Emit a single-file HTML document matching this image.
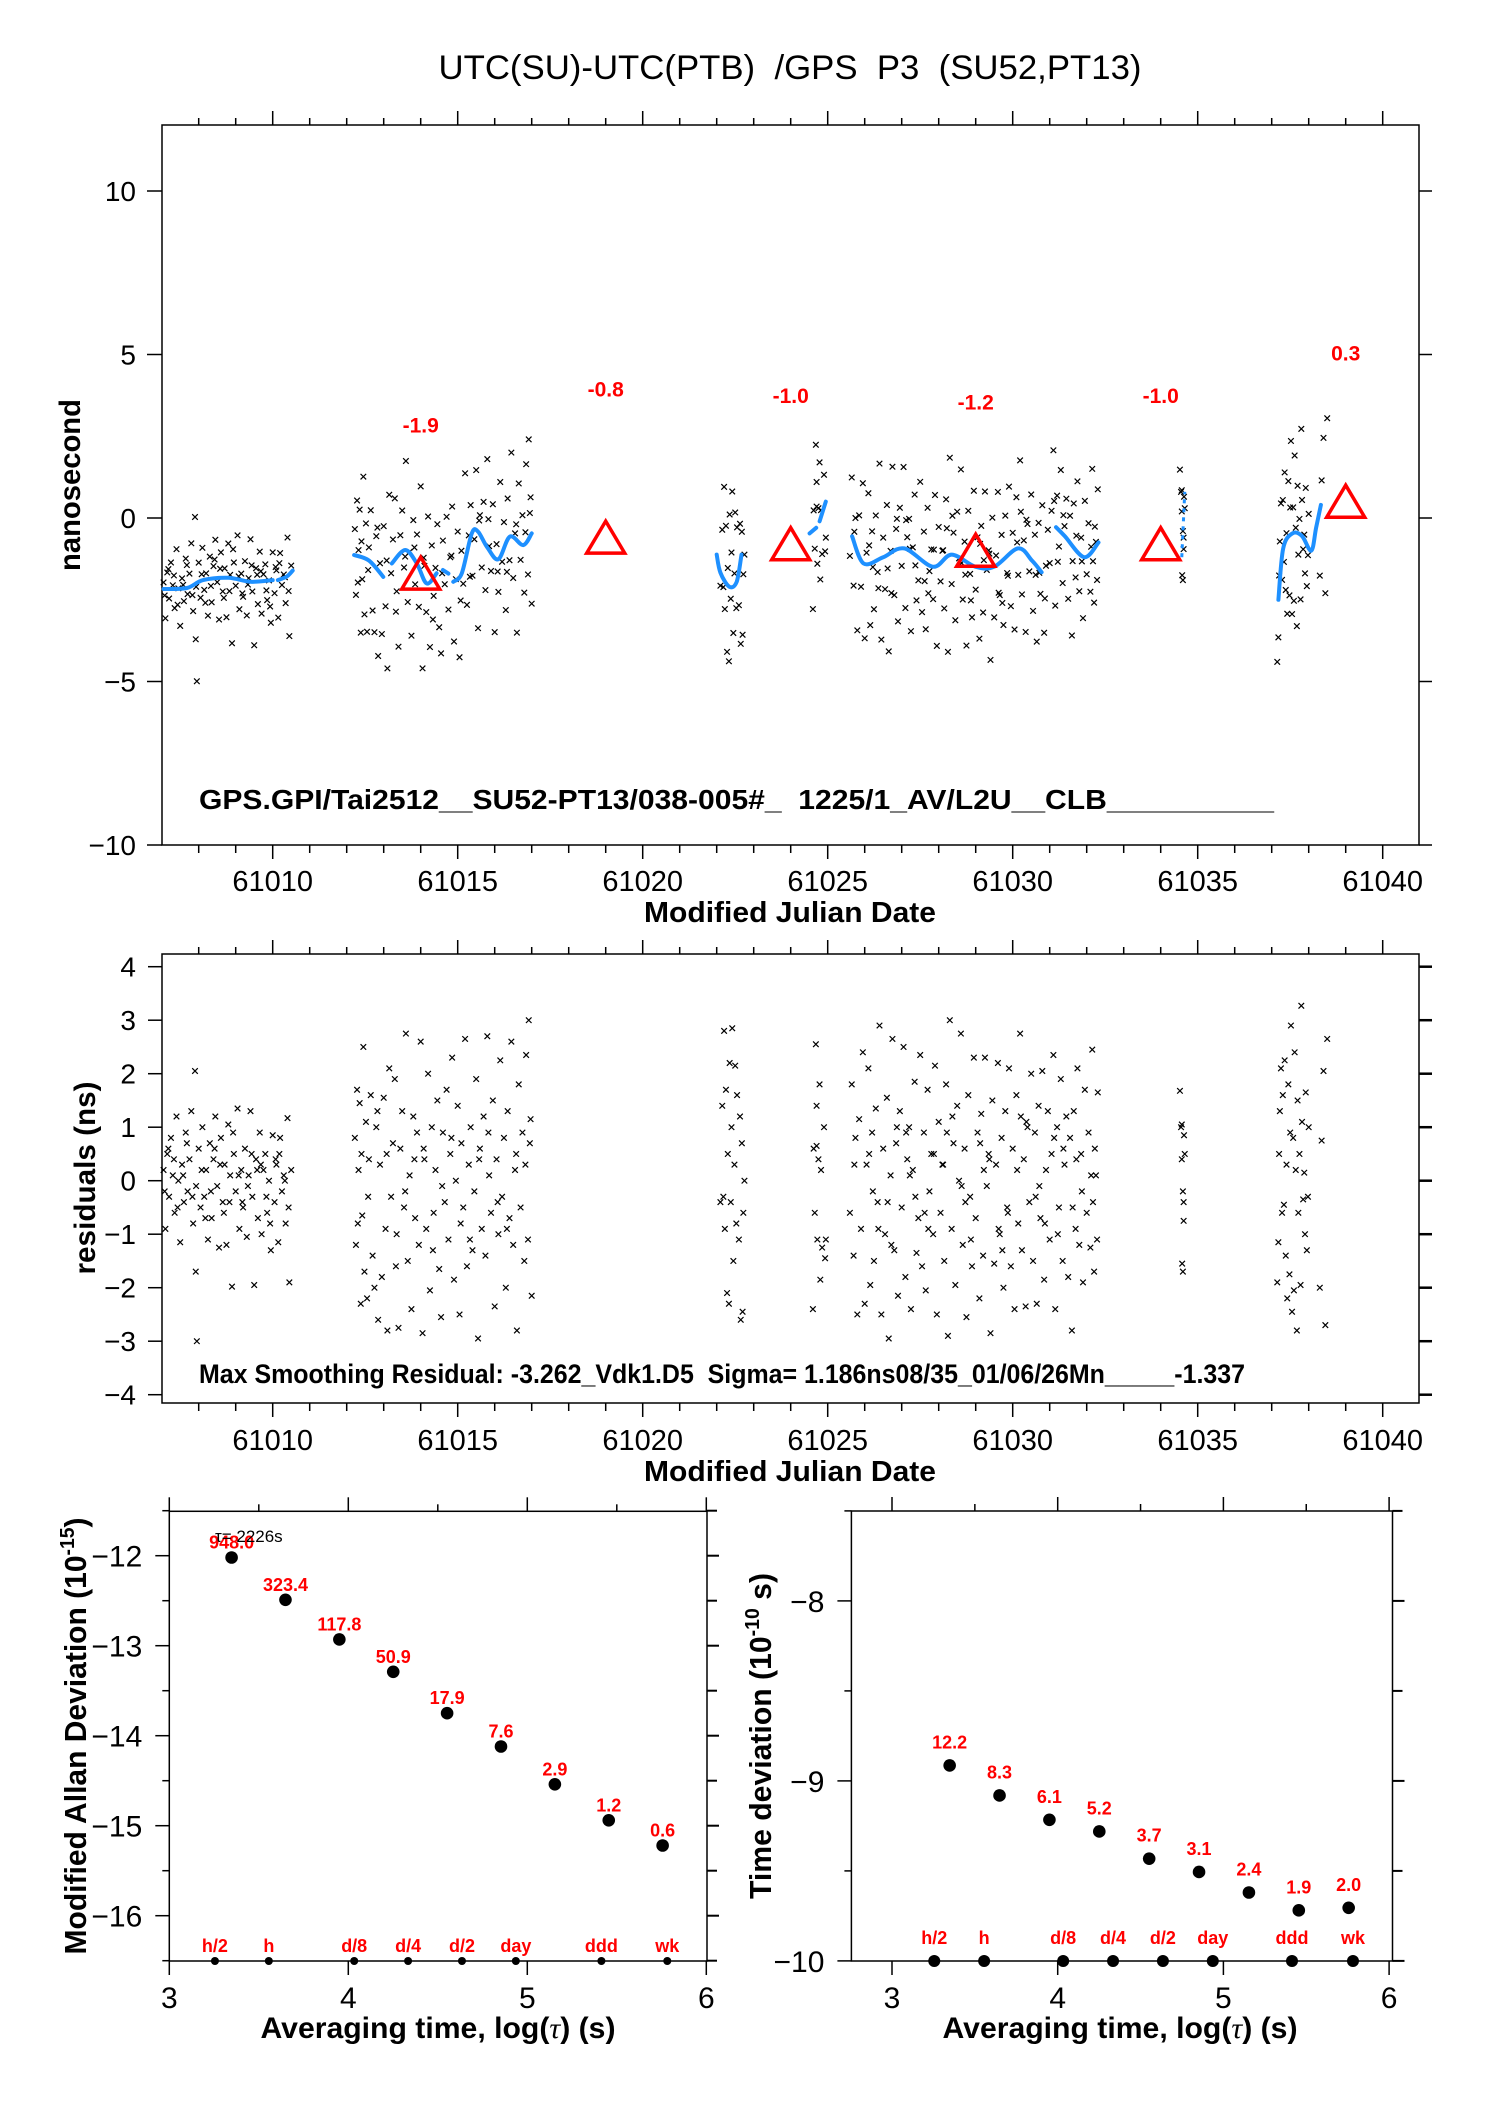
<!DOCTYPE html>
<html><head><meta charset="utf-8">
<style>
body{margin:0;background:#fff}
svg{display:block}
text{font-family:"Liberation Sans",Arial,sans-serif;white-space:pre}
</style></head>
<body>
<svg id="chart" xmlns="http://www.w3.org/2000/svg" width="1488" height="2105" viewBox="0 0 1488 2105">
<rect width="1488" height="2105" fill="#fff"/>
</svg>
<script>
// ---------------- DATA ----------------
const triMjd=[61014,61019,61024,61029,61034,61039];
const triVal=[-1.9,-0.8,-1.0,-1.2,-1.0,0.3];
const triLabels=['-1.9','-0.8','-1.0','-1.2','-1.0','0.3'];

const smoothX=[
 [61007.05,61007.68,61008.12,61008.8,61009.4,61010.0],
 [61010.14,61010.38,61010.54],
 [61012.2,61012.6,61012.99],
 [61013.22,61013.58,61013.89,61014.16,61014.43],
 [61014.6,61014.75],
 [61014.88,61015.11,61015.38,61015.55,61015.8,61016.1,61016.41,61016.77,61017.0],
 [61022.0,61022.1,61022.34,61022.54,61022.67],
 [61024.51,61024.69],
 [61024.78,61024.95],
 [61025.66,61025.97,61026.5,61027.07,61027.84,61028.35,61028.99,61029.5,61030.14,61030.52,61030.78],
 [61031.17,61031.41,61031.93,61032.32],
 [61037.18,61037.31,61037.56,61037.82,61038.07,61038.2,61038.33]
];
const smoothY=[
 [-2.17,-2.14,-1.9,-1.83,-1.95,-1.9],
 [-1.9,-1.79,-1.61],
 [-1.13,-1.3,-1.8],
 [-1.39,-0.98,-1.38,-2.0,-1.69],
 [-1.59,-1.7],
 [-1.95,-1.69,-0.47,-0.42,-0.9,-1.26,-0.57,-0.83,-0.47],
 [-1.12,-1.67,-2.1,-1.95,-1.12],
 [-0.47,-0.3],
 [-0.1,0.5],
 [-0.56,-1.39,-1.2,-0.93,-1.49,-1.12,-1.49,-1.49,-0.93,-1.3,-1.66],
 [-0.28,-0.56,-1.2,-0.75],
 [-2.5,-0.93,-0.47,-0.55,-1.0,-0.3,0.4]
];
const dottedX=[61034.57,61034.65];
const dottedY=[-1.2,0.8];

const res1=[[7.05,0.2],[7.1,-0.9],[7.15,0.5],[7.2,-0.3],[7.25,0.8],[7.3,0.1],[7.35,-0.6],[7.4,1.2],[7.45,0.0],[7.5,-1.15],[7.55,0.3],[7.6,-0.4],[7.65,0.9],[7.7,-0.2],[7.75,0.4],[7.8,1.3],[7.85,-0.8],[7.9,2.05],[7.92,-1.7],[7.95,-3.0],[8.0,0.6],[8.05,-0.5],[8.1,1.0],[8.15,-0.3],[8.2,0.2],[8.25,-1.1],[8.3,0.7],[8.35,-0.7],[8.4,0.4],[8.45,1.2],[8.5,-0.1],[8.55,-1.25],[8.6,0.8],[8.65,-0.4],[8.7,0.3],[8.75,-1.2],[8.8,1.05],[8.85,0.1],[8.9,-1.98],[8.95,0.5],[9.0,-0.2],[9.05,1.35],[9.1,-0.9],[9.15,0.2],[9.2,-0.5],[9.25,0.6],[9.3,-1.05],[9.35,0.1],[9.4,1.3],[9.45,-0.3],[9.5,-1.95],[9.55,0.4],[9.6,-0.7],[9.65,0.9],[9.7,-1.0],[9.75,0.2],[9.8,0.5],[9.85,-0.6],[9.9,0.0],[9.95,-1.3],[10.0,0.85],[10.05,-0.4],[10.1,0.3],[10.15,-1.15],[10.2,0.8],[10.25,-0.2],[10.3,0.1],[10.35,-0.8],[10.4,1.17],[10.45,-1.9],[10.5,0.2],[7.08,-0.2],[7.33,0.4],[7.58,0.1],[7.83,-0.3],[8.08,0.2],[8.33,-0.2],[8.58,0.3],[8.83,-0.4],[9.08,0.1],[9.33,-0.1],[9.58,0.2],[9.83,-0.3],[10.08,0.4],[10.33,0.0],[7.18,0.6],[7.43,-0.5],[7.68,0.7],[7.93,-0.1],[8.18,-0.7],[8.43,0.6],[8.68,-0.6],[8.93,0.9],[9.18,-0.4],[9.43,0.5],[9.68,0.3],[9.93,-0.8],[10.18,0.5],[10.43,-0.5]];
const res2=[[12.22,0.8],[12.25,-1.2],[12.28,1.7],[12.3,-0.8],[12.32,0.2],[12.35,1.45],[12.38,-2.3],[12.4,0.5],[12.42,-0.65],[12.45,2.5],[12.48,-1.7],[12.52,1.1],[12.55,-2.2],[12.6,0.4],[12.65,1.6],[12.7,-1.4],[12.75,-2.0],[12.8,1.0],[12.85,-2.6],[12.9,0.3],[12.95,-1.8],[13.0,1.55],[13.05,-0.9],[13.1,-2.8],[13.15,2.1],[13.2,-0.3],[13.25,0.7],[13.3,1.9],[13.35,-1.0],[13.4,-2.75],[13.45,0.6],[13.5,1.3],[13.55,-0.5],[13.6,2.75],[13.65,-1.5],[13.7,0.1],[13.75,-2.4],[13.8,1.2],[13.85,-0.7],[13.9,0.9],[13.95,-1.2],[14.0,2.6],[14.05,-2.85],[14.1,0.4],[14.15,-0.9],[14.2,2.0],[14.25,-2.05],[14.3,1.0],[14.35,-0.6],[14.4,0.2],[14.45,1.5],[14.5,-1.65],[14.55,-2.55],[14.6,0.9],[14.65,-0.4],[14.7,1.7],[14.75,-1.1],[14.8,0.5],[14.85,2.3],[14.9,-1.85],[14.95,0.0],[15.0,1.4],[15.05,-2.5],[15.1,0.7],[15.15,-0.5],[15.2,2.65],[15.25,-1.6],[15.3,0.3],[15.35,1.0],[15.4,-1.3],[15.45,-0.2],[15.5,1.9],[15.55,-2.95],[15.6,0.6],[15.65,-0.9],[15.7,1.2],[15.75,-1.4],[15.8,2.7],[15.85,0.1],[15.9,-0.6],[15.95,1.5],[16.0,-2.35],[16.05,0.4],[16.1,-1.0],[16.15,2.25],[16.2,-0.3],[16.25,0.8],[16.3,-2.0],[16.35,1.3],[16.4,-0.7],[16.45,2.6],[16.5,-1.2],[16.55,0.2],[16.6,-2.8],[16.65,1.8],[16.7,-0.5],[16.75,0.9],[16.8,-1.5],[16.85,2.35],[16.9,-1.1],[16.95,0.7],[17.0,-2.15],[16.92,3.0],[16.97,1.15],[12.58,-0.3],[13.08,0.5],[13.58,-0.2],[14.08,0.6],[14.58,-0.1],[15.08,-0.8],[15.58,0.4],[16.08,-0.4],[16.58,0.5],[12.83,1.3],[13.33,-1.6],[13.83,0.4],[14.33,-1.3],[14.83,0.8],[15.33,-1.1],[15.83,0.9],[16.33,-0.9],[16.83,0.3]];
const res3=[[22.15,1.4],[22.18,-0.3],[22.2,2.8],[22.22,-0.9],[22.25,1.7],[22.28,-2.1],[22.3,0.5],[22.33,-2.3],[22.35,2.2],[22.38,-0.4],[22.4,1.0],[22.42,2.85],[22.45,-1.5],[22.48,0.3],[22.5,2.15],[22.53,-0.8],[22.55,1.6],[22.6,-1.1],[22.63,1.2],[22.65,-2.6],[22.68,0.7],[22.7,-2.45],[22.72,-0.6],[22.75,0.0],[22.1,-0.4]];
const res4=[[24.6,-2.4],[24.62,0.6],[24.65,-0.6],[24.68,2.55],[24.7,1.4],[24.72,-1.1],[24.75,0.4],[24.78,1.8],[24.8,-1.85],[24.82,0.2],[24.85,-1.25],[24.9,1.0],[24.93,-1.45],[24.95,-1.1],[24.7,0.65]];
const res5=[[25.6,-0.6],[25.65,1.8],[25.7,-1.4],[25.75,0.8],[25.8,-2.5],[25.85,1.15],[25.9,-0.9],[25.95,2.4],[26.0,-2.3],[26.05,0.3],[26.1,2.1],[26.15,-1.95],[26.2,0.9],[26.25,-1.5],[26.3,1.35],[26.35,-0.4],[26.4,2.9],[26.45,-2.5],[26.5,0.6],[26.55,-1.0],[26.6,1.55],[26.65,-2.95],[26.7,0.1],[26.75,2.65],[26.8,-1.3],[26.85,0.7],[26.9,-2.15],[26.95,1.3],[27.0,-0.5],[27.05,2.5],[27.1,-1.8],[27.15,0.4],[27.2,1.0],[27.25,-2.4],[27.3,0.2],[27.35,1.85],[27.4,-1.35],[27.45,-0.7],[27.5,2.35],[27.55,-1.6],[27.6,0.9],[27.65,-2.05],[27.7,1.7],[27.75,-0.2],[27.8,0.5],[27.85,-1.0],[27.9,2.15],[27.95,-2.5],[28.0,1.1],[28.05,-0.6],[28.1,0.3],[28.15,-1.5],[28.2,1.8],[28.25,-2.9],[28.3,3.0],[28.35,-0.9],[28.4,0.7],[28.45,-1.95],[28.5,1.4],[28.55,0.0],[28.6,2.75],[28.65,-1.2],[28.7,0.6],[28.75,-2.55],[28.8,1.6],[28.85,-0.3],[28.9,-1.6],[28.95,2.3],[29.0,-0.7],[29.05,0.9],[29.1,-2.2],[29.15,1.25],[29.2,-1.4],[29.25,2.3],[29.3,-0.1],[29.35,0.5],[29.4,-2.85],[29.45,1.5],[29.5,-1.55],[29.55,0.3],[29.6,2.2],[29.65,-1.0],[29.7,0.8],[29.75,-2.0],[29.8,1.3],[29.85,-0.5],[29.9,2.1],[29.95,-1.6],[30.0,0.6],[30.05,-2.4],[30.1,1.6],[30.15,-0.8],[30.2,2.75],[30.25,-1.3],[30.3,0.4],[30.35,-2.35],[30.4,1.0],[30.45,-0.4],[30.5,2.0],[30.55,-1.5],[30.6,0.9],[30.65,-2.3],[30.7,1.4],[30.75,-0.7],[30.8,2.05],[30.85,-1.85],[30.9,0.2],[30.95,1.3],[31.0,-1.1],[31.05,0.5],[31.1,2.35],[31.15,-2.4],[31.2,1.0],[31.25,-0.5],[31.3,1.9],[31.35,-1.5],[31.4,0.3],[31.45,1.2],[31.5,-1.8],[31.55,0.8],[31.6,-2.8],[31.65,1.3],[31.7,-0.9],[31.75,2.1],[31.8,-1.2],[31.85,0.5],[31.9,-1.9],[31.95,1.7],[32.0,-0.6],[32.05,0.9],[32.1,-1.25],[32.15,2.45],[32.2,-1.7],[32.25,0.1],[32.3,1.65],[32.28,-1.1],[32.22,0.6],[26.12,0.5],[26.62,-0.4],[27.12,0.9],[27.62,-0.6],[28.12,0.3],[28.62,-0.1],[29.12,0.7],[29.62,-0.9],[30.12,0.2],[30.62,-0.3],[31.12,0.8],[31.62,-0.5],[32.12,0.1],[26.37,-0.9],[26.87,1.0],[27.37,-0.3],[27.87,0.5],[28.37,1.2],[28.87,-1.1],[29.37,0.4],[29.87,-0.6],[30.37,1.1],[30.87,-0.8],[31.37,0.6],[31.87,-0.2],[25.72,0.3],[26.22,-0.2],[26.72,-1.2],[27.22,0.1],[27.72,-0.9],[28.22,0.9],[28.72,-0.4],[29.22,0.2],[29.72,-1.3],[30.22,1.2],[30.72,-0.1],[31.22,-1.0],[31.72,0.4],[32.17,-0.4]];
const res6=[[34.52,1.68],[34.55,1.0],[34.57,0.4],[34.6,-0.2],[34.62,-0.75],[34.58,-1.55],[34.6,-1.7],[34.63,0.85],[34.65,0.5],[34.57,1.05],[34.62,-0.4]];
const res7=[[37.15,-1.9],[37.18,-1.15],[37.2,0.5],[37.22,1.3],[37.25,2.1],[37.28,-0.6],[37.3,1.6],[37.33,-0.45],[37.35,2.25],[37.38,-1.4],[37.4,0.3],[37.42,-2.2],[37.45,1.8],[37.48,-1.75],[37.5,0.9],[37.52,2.9],[37.55,-2.45],[37.58,0.8],[37.6,-2.05],[37.62,2.4],[37.65,0.2],[37.68,-2.8],[37.7,1.5],[37.72,-0.6],[37.75,0.5],[37.78,-1.95],[37.8,3.27],[37.82,1.1],[37.85,-0.35],[37.88,0.15],[37.9,-1.0],[37.92,1.65],[37.95,-1.3],[38.0,1.0],[38.3,-2.0],[38.35,0.75],[38.4,2.05],[38.45,-2.7],[38.5,2.65],[37.98,-0.3]];

const mjdTicks=[61010,61015,61020,61025,61030,61035,61040];
const topYTicks=[10,5,0,-5,-10];
const midYTicks=[4,3,2,1,0,-1,-2,-3,-4];

const logTau=[3.348,3.649,3.950,4.251,4.552,4.853,5.154,5.455,5.756];
const mdevVal=[-12.02,-12.49,-12.93,-13.29,-13.75,-14.12,-14.54,-14.94,-15.22];
const mdevLabels=['948.0','323.4','117.8','50.9','17.9','7.6','2.9','1.2','0.6'];
const tdevVal=[-8.914,-9.081,-9.216,-9.281,-9.432,-9.506,-9.62,-9.719,-9.705];
const tdevLabels=['12.2','8.3','6.1','5.2','3.7','3.1','2.4','1.9','2.0'];
const markLog=[3.255,3.556,4.033,4.334,4.635,4.936,5.414,5.782];
const markLabels=['h/2','h','d/8','d/4','d/2','day','ddd','wk'];
const logTicks=[3,4,5,6];
const mdevYTicks=[-12,-13,-14,-15,-16];
const tdevYTicks=[-8,-9,-10];

// ---------------- HELPERS ----------------
const NS='http://www.w3.org/2000/svg';
const svg=document.getElementById('chart');
function add(tag,attrs,name,parent){
  const e=document.createElementNS(NS,tag);
  for(const k in attrs) e.setAttribute(k,attrs[k]);
  
  
  (parent||svg).appendChild(e);
  return e;
}
function txt(x,y,s,size,name,parent,extra){
  const a={x:x,y:y,'font-size':size,fill:'#000'};
  if(extra) for(const k in extra) a[k]=extra[k];
  const t=add('text',a,name,parent);
  t.textContent=s;
  return t;
}
function line(x1,y1,x2,y2,name,parent,w,col){
  return add('line',{x1:x1,y1:y1,x2:x2,y2:y2,stroke:col||'#000','stroke-width':w||1.5},name,parent);
}
function cross(x,y,name,parent){
  const s=2.8;
  return add('path',{d:`M${x-s} ${y-s}L${x+s} ${y+s}M${x-s} ${y+s}L${x+s} ${y-s}`,stroke:'#000','stroke-width':1.2,fill:'none'},name,parent);
}
function smoothAt(m){
  let best=null,bd=1e9;
  for(let i=0;i<smoothX.length;i++){
    const xs=smoothX[i],ys=smoothY[i];
    if(m>=xs[0]&&m<=xs[xs.length-1]){
      for(let j=0;j<xs.length-1;j++) if(m>=xs[j]&&m<=xs[j+1]){const f=(m-xs[j])/(xs[j+1]-xs[j]||1);return ys[j]+f*(ys[j+1]-ys[j]);}
    }
    const d0=Math.abs(m-xs[0]),d1=Math.abs(m-xs[xs.length-1]);
    if(d0<bd){bd=d0;best=ys[0];}
    if(d1<bd){bd=d1;best=ys[ys.length-1];}
  }
  if(m>=dottedX[0]-0.1&&m<=dottedX[1]+0.1) return (dottedY[0]+dottedY[1])/2;
  return best;
}
function smoothPath(P){
  if(P.length<3) return 'M'+P.map(p=>p[0].toFixed(1)+' '+p[1].toFixed(1)).join('L');
  let d='M'+P[0][0].toFixed(1)+' '+P[0][1].toFixed(1);
  for(let i=0;i<P.length-1;i++){
    const p0=P[i-1]||P[i],p1=P[i],p2=P[i+1],p3=P[i+2]||P[i+1];
    const c1=[p1[0]+(p2[0]-p0[0])/6,p1[1]+(p2[1]-p0[1])/6];
    const c2=[p2[0]-(p3[0]-p1[0])/6,p2[1]-(p3[1]-p1[1])/6];
    d+=`C${c1[0].toFixed(1)} ${c1[1].toFixed(1)} ${c2[0].toFixed(1)} ${c2[1].toFixed(1)} ${p2[0].toFixed(1)} ${p2[1].toFixed(1)}`;
  }
  return d;
}
const allRes=[res1,res2,res3,res4,res5,res6,res7];

// ---------------- AXES ----------------
const XL=162,XR=1419;
const Xm=m=>272.7+(m-61010)*37;
const TT=125,TB=845;
const Yt=v=>518-32.7*v;
const MT=954,MB=1403;
const Ym=v=>1180.7-53.5*v;

txt(790,79,'UTC(SU)-UTC(PTB)  /GPS  P3  (SU52,PT13)',34,'chart-title',svg,{'text-anchor':'middle',textLength:703,lengthAdjust:'spacingAndGlyphs'});

function mjdAxis(g,T,B,labelY,titleY,prefix){
  add('rect',{x:XL,y:T,width:XR-XL,height:B-T,fill:'none',stroke:'#000','stroke-width':1.5},prefix+'-frame',g);
  for(let d=61008;d<=61041;d++){
    const x=Xm(d); if(x<XL||x>XR+0.5) continue;
    const major=d%5===0;
    line(x,T,x,T-(major?14:7),prefix+'-top-tick',g);
    line(x,B,x,B+(major?14:8),prefix+'-bottom-tick',g);
  }
  mjdTicks.forEach(d=>txt(Xm(d),labelY,String(d),29,prefix+'-x-tick-label',g,{'text-anchor':'middle'}));
  txt(790,titleY,'Modified Julian Date',29,prefix+'-x-axis-title',g,{'text-anchor':'middle','font-weight':'bold',textLength:292,lengthAdjust:'spacingAndGlyphs'});
}

// ---------- TOP PANEL ----------
const gTop=add('g',{},'phase-panel');
mjdAxis(gTop,TT,TB,891,922,'phase');
topYTicks.forEach(v=>{
  line(XL-15,Yt(v),XL,Yt(v),'phase-y-tick',gTop);
  line(XR,Yt(v),XR+13,Yt(v),'phase-y-tick-right',gTop);
  txt(136,Yt(v)+10,String(v).replace('-','\u2212'),28,'phase-y-tick-label',gTop,{'text-anchor':'end'});
});
const yt1=txt(0,0,'nanosecond',30,'phase-y-axis-title',gTop,{'font-weight':'bold','text-anchor':'middle',textLength:172,lengthAdjust:'spacingAndGlyphs'});
yt1.setAttribute('transform','translate(80,485) rotate(-90)');
const gPts=add('g',{},'phase-points',gTop);
allRes.forEach(seg=>seg.forEach(p=>{const m=61000+p[0];cross(Xm(m),Yt(smoothAt(m)+p[1]),'phase-point',gPts);}));
const gSm=add('g',{},'smoothing-curve',gTop);
smoothX.forEach((xs,i)=>{
  const P=xs.map((x,j)=>[Xm(x),Yt(smoothY[i][j])]);
  add('path',{d:smoothPath(P),fill:'none',stroke:'#1e90ff','stroke-width':4,'stroke-linejoin':'round','stroke-linecap':'round'},'smoothing-segment',gSm);
});
add('polyline',{points:dottedX.map((x,j)=>Xm(x)+','+Yt(dottedY[j])).join(' '),fill:'none',stroke:'#1e90ff','stroke-width':3,'stroke-dasharray':'4 5'},'smoothing-dotted',gSm);
const gTri=add('g',{},'daily-means',gTop);
triMjd.forEach((m,i)=>{
  const x=Xm(m),y=Yt(triVal[i]);
  add('path',{d:`M${x} ${y-23}L${x+19} ${y+9}L${x-19} ${y+9}Z`,fill:'none',stroke:'#f00','stroke-width':3.5},'daily-mean-triangle',gTri);
  txt(x,Yt(triVal[i]+4.7)+6,triLabels[i],21,'daily-mean-label',gTri,{'text-anchor':'middle','font-weight':'bold',fill:'#f00'});
});
txt(199,809,'GPS.GPI/Tai2512__SU52-PT13/038-005#_  1225/1_AV/L2U__CLB__________',28,'file-info-label',gTop,{'font-weight':'bold',textLength:1075,lengthAdjust:'spacingAndGlyphs'});

// ---------- MIDDLE PANEL ----------
const gMid=add('g',{},'residuals-panel');
mjdAxis(gMid,MT,MB,1450,1481,'residuals');
midYTicks.forEach(v=>{
  line(XL-14,Ym(v),XL,Ym(v),'residuals-y-tick',gMid);
  line(XR,Ym(v),XR+13,Ym(v),'residuals-y-tick-right',gMid,2.5);
  txt(136,Ym(v)+10,String(v).replace('-','\u2212'),28,'residuals-y-tick-label',gMid,{'text-anchor':'end'});
});
const yt2=txt(0,0,'residuals (ns)',30,'residuals-y-axis-title',gMid,{'font-weight':'bold','text-anchor':'middle',textLength:193,lengthAdjust:'spacingAndGlyphs'});
yt2.setAttribute('transform','translate(95,1178) rotate(-90)');
const gRes=add('g',{},'residual-points',gMid);
allRes.forEach(seg=>seg.forEach(p=>cross(Xm(61000+p[0]),Ym(p[1]),'residual-point',gRes)));
txt(199,1383,'Max Smoothing Residual: -3.262_Vdk1.D5  Sigma= 1.186ns08/35_01/06/26Mn_____-1.337',27,'residual-stats-label',gMid,{'font-weight':'bold',textLength:1046,lengthAdjust:'spacingAndGlyphs'});

// ---------- BOTTOM PANELS ----------
function devPanel(o){
  const g=add('g',{},o.name);
  add('rect',{x:o.L,y:o.T,width:o.R-o.L,height:o.B-o.T,fill:'none',stroke:'#000','stroke-width':1.5},o.name+'-frame',g);
  for(let l=3;l<=6.001;l+=0.5){
    const x=o.X(l),major=Math.abs(l-Math.round(l))<0.01;
    line(x,o.T,x,o.T-(major?14:7),o.name+'-top-tick',g);
    if(major) line(x,o.B,x,o.B+14,o.name+'-bottom-tick',g);
  }
  logTicks.forEach(l=>txt(o.X(l),2008,String(l),30,o.name+'-x-tick-label',g,{'text-anchor':'middle'}));
  for(let v=o.yMax;v>=o.yMin-0.001;v-=0.5){
    const y=o.Y(v),major=Math.abs(v-Math.round(v))<0.01;
    line(o.L-(major?14:7),y,o.L,y,o.name+'-y-tick',g);
    line(o.R,y,o.R+(major?12:10),y,o.name+'-y-tick-right',g,2);
  }
  o.yTicks.forEach(v=>txt(o.L-27,o.Y(v)+11,String(v).replace('-','\u2212'),30,o.name+'-y-tick-label',g,{'text-anchor':'end'}));
  const t=txt(o.titleX,2038,'Averaging time, log(',30,o.name+'-x-axis-title',g,{'font-weight':'bold','text-anchor':'middle',textLength:355,lengthAdjust:'spacingAndGlyphs'});
  const ts=add('tspan',{'font-family':'"Liberation Serif",serif','font-style':'italic','font-weight':'normal'},o.name+'-tau-symbol',t);
  ts.textContent='\u03c4';
  const ts2=add('tspan',{},o.name+'-title-end',t);
  ts2.textContent=') (s)';
  markLog.forEach((l,i)=>{
    add('circle',{cx:o.X(l),cy:o.B,r:o.markR,fill:'#000'},o.name+'-interval-marker',g);
    txt(o.X(l),o.markLabelY,markLabels[i],18,o.name+'-interval-label',g,{'text-anchor':'middle','font-weight':'bold',fill:'#f00'});
  });
  logTau.forEach((l,i)=>{
    add('circle',{cx:o.X(l),cy:o.Y(o.vals[i]),r:6.3,fill:'#000'},o.name+'-point',g);
    txt(o.X(l),o.Y(o.vals[i])-o.lblOff,o.labels[i],18,o.name+'-point-label',g,{'text-anchor':'middle','font-weight':'bold',fill:'#f00'});
  });
  return g;
}
const gA=devPanel({name:'mdev-panel',L:169.3,R:707,T:1511.3,B:1961,X:l=>169.3+(l-3)*179,Y:v=>1555.7+(-12-v)*90,yMax:-11.5,yMin:-16.5,yTicks:mdevYTicks,titleX:438,markR:4,markLabelY:1952,vals:mdevVal,labels:mdevLabels,lblOff:9});
txt(215,1542,'\u03c4= 2226s',17,'tau0-label',gA);
const yt3=txt(0,0,'Modified Allan Deviation (10',31,'mdev-y-axis-title',gA,{'font-weight':'bold','text-anchor':'middle',textLength:437,lengthAdjust:'spacingAndGlyphs'});
const s3=add('tspan',{'font-size':20,dy:-12},'mdev-exponent',yt3);
s3.textContent='-15';
const s3b=add('tspan',{dy:12},'mdev-title-end',yt3);
s3b.textContent=')';
yt3.setAttribute('transform','translate(86,1736) rotate(-90)');

const gB=devPanel({name:'tdev-panel',L:851.4,R:1392.5,T:1511,B:1961,X:l=>892+(l-3)*165.7,Y:v=>1600.9+(-8-v)*180,yMax:-7.5,yMin:-10,yTicks:tdevYTicks,titleX:1120,markR:6,markLabelY:1944,vals:tdevVal,labels:tdevLabels,lblOff:17});
const yt4=txt(0,0,'Time deviation (10',31,'tdev-y-axis-title',gB,{'font-weight':'bold','text-anchor':'middle',textLength:326,lengthAdjust:'spacingAndGlyphs'});
const s4=add('tspan',{'font-size':20,dy:-12},'tdev-exponent',yt4);
s4.textContent='-10';
const s4b=add('tspan',{dy:12},'tdev-title-end',yt4);
s4b.textContent=' s)';
yt4.setAttribute('transform','translate(771,1736) rotate(-90)');
</script>
</body></html>
